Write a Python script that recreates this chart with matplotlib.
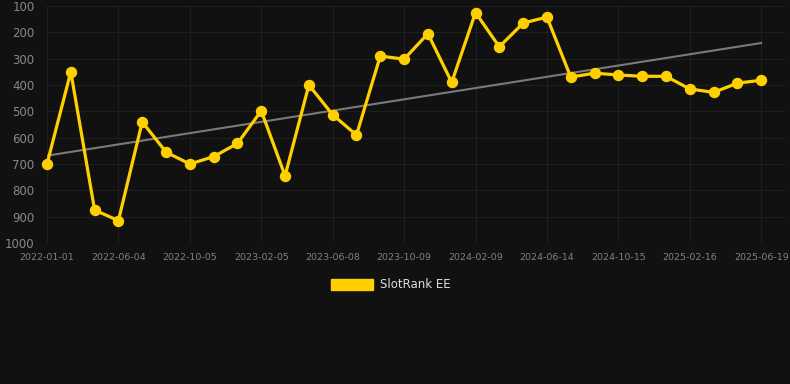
import matplotlib
matplotlib.use("Agg")
import matplotlib.pyplot as plt
import numpy as np
from matplotlib.patches import Patch

tick_labels = ["2022-01-01", "2022-06-04", "2022-10-05", "2023-02-05", "2023-06-08",
               "2023-10-09", "2024-02-09", "2024-06-14", "2024-10-15", "2025-02-16",
               "2025-06-19"]
ranks = [700, 350, 875, 915, 540, 655, 700, 672, 622, 498, 745, 400, 513, 590,
         290, 302, 205, 390, 125, 255, 165, 142, 370, 355, 362, 367, 367, 415,
         428, 393, 382]
series_name = "SlotRank EE"
y_ticks = [100, 200, 300, 400, 500, 600, 700, 800, 900, 1000]

bg = "#111111"
fig = plt.figure(figsize=(7.9, 3.84), dpi=100, facecolor=bg)
ax = fig.add_axes([47/790, 1-243/384, (785-47)/790, (243-6)/384])
ax.set_facecolor(bg)

x = np.arange(len(ranks))
coef = np.polyfit(x, ranks, 1)
ax.plot(x, np.polyval(coef, x), color="#7a7a7a", lw=1.5, zorder=2)
ax.plot(x, ranks, color="#FFD000", lw=2.3, marker="o", markersize=7.2,
        label=series_name, zorder=3, clip_on=False)

ax.set_xlim(0, 31)
ax.set_ylim(1000, 100)
ax.set_yticks(y_ticks)
ax.set_xticks(x[::3])
ax.set_xticklabels(tick_labels)
ax.grid(True, color="#1f1f1f", lw=0.8)
for s in ax.spines.values():
    s.set_visible(False)
ax.tick_params(axis="y", length=0, pad=9, labelsize=8.5, labelcolor="#888888")
ax.tick_params(axis="x", length=0, pad=7, labelsize=6.8, labelcolor="#808080")

leg = fig.legend(handles=[Patch(facecolor="#FFD000", edgecolor="#FFD000")],
                 labels=[series_name], loc="center", bbox_to_anchor=(391/790, 1-285/384),
                 frameon=False, fontsize=8.5, handlelength=3.5, handleheight=1.0,
                 handletextpad=0.6)
for t in leg.get_texts():
    t.set_color("#dddddd")

fig.savefig("out.png", dpi=100, facecolor=bg)
